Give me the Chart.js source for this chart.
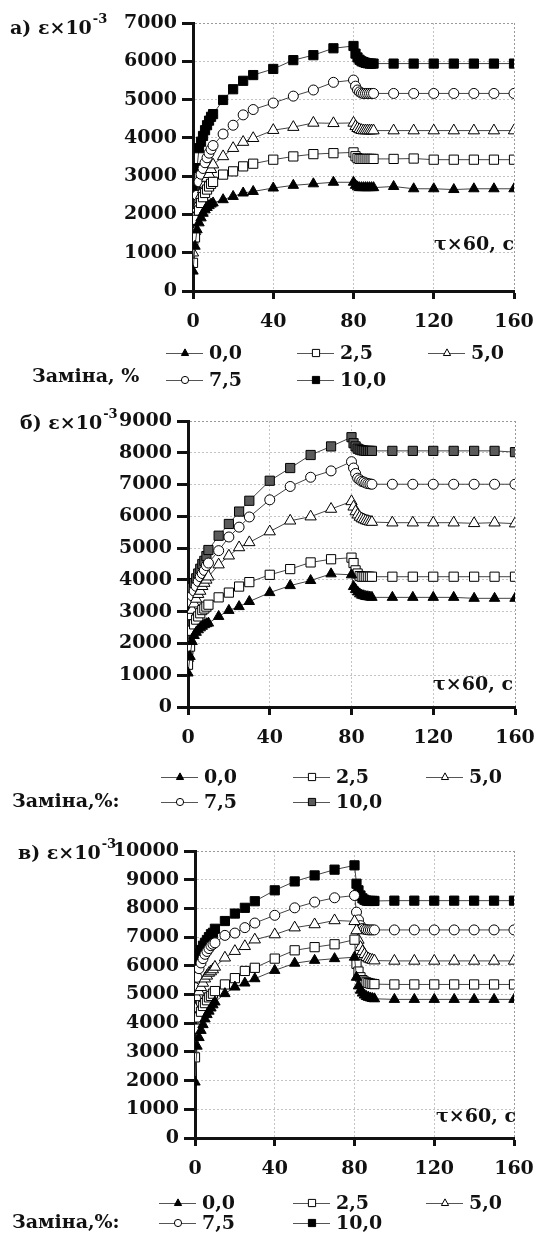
<!DOCTYPE html>
<html><head><meta charset="utf-8">
<script src="https://cdn.jsdelivr.net/npm/chart.js@4.4.0/dist/chart.umd.min.js"></script>
<style>
html,body{margin:0;padding:0;background:#fff;}
body{width:536px;height:1239px;position:relative;overflow:hidden;}
canvas{position:absolute;left:0;}
</style></head><body>
<canvas id="ca" width="536" height="395" style="top:0px"></canvas>
<canvas id="cb" width="536" height="425" style="top:395px"></canvas>
<canvas id="cc" width="536" height="419" style="top:820px"></canvas>
<script>
// ---- data ----
const timeX = [0,1,2,3,4,5,6,7,8,9,10,15,20,25,30,40,50,60,70,80,81,82,83,84,85,86,87,88,89,90,100,110,120,130,140,150,160];
const seriesLabels = ['0,0','2,5','5,0','7,5','10,0'];
const xTicks = [0,40,80,120,160];

// panel а
const a_00 = [520,1170,1600,1780,1910,2030,2120,2180,2230,2270,2300,2385,2470,2560,2600,2690,2760,2800,2840,2840,2760,2720,2700,2700,2700,2700,2700,2700,2700,2700,2730,2670,2670,2650,2670,2670,2670];
const a_25 = [735,1400,1860,2100,2300,2450,2560,2650,2730,2800,2850,3040,3125,3255,3325,3430,3515,3575,3600,3620,3520,3470,3450,3450,3450,3450,3450,3450,3450,3450,3450,3460,3430,3430,3430,3430,3430];
const a_50 = [1000,1560,2040,2300,2500,2650,2800,2950,3050,3180,3300,3515,3730,3890,3990,4200,4280,4390,4380,4390,4300,4250,4220,4200,4190,4190,4190,4190,4190,4190,4190,4190,4190,4190,4190,4190,4190];
const a_75 = [1240,2030,2500,2850,3050,3200,3350,3480,3600,3700,3800,4100,4330,4600,4740,4910,5090,5250,5450,5510,5350,5250,5200,5170,5160,5160,5160,5160,5160,5160,5160,5160,5160,5160,5160,5160,5160];
const a_100 = [1620,2640,3210,3730,3900,4050,4200,4330,4450,4550,4620,4990,5270,5490,5640,5800,6030,6160,6340,6400,6200,6100,6040,6000,5980,5960,5950,5940,5940,5940,5940,5940,5940,5940,5940,5940,5940];
// panel б
const b_00 = [1070,1590,2060,2250,2350,2430,2490,2540,2590,2620,2640,2850,3040,3160,3320,3600,3820,3980,4190,4160,3790,3700,3620,3560,3520,3500,3480,3470,3460,3450,3450,3450,3450,3450,3420,3420,3420];
const b_25 = [1330,1900,2400,2600,2750,2850,2950,3050,3100,3160,3220,3450,3600,3790,3930,4160,4340,4550,4650,4700,4530,4300,4200,4120,4100,4100,4100,4100,4100,4100,4100,4100,4100,4100,4100,4100,4100];
const b_50 = [1540,2850,3050,3250,3400,3550,3650,3800,3900,4000,4100,4480,4760,5020,5180,5520,5860,5990,6230,6470,6300,6150,6050,5980,5930,5900,5870,5850,5830,5820,5800,5800,5800,5800,5780,5800,5770];
const b_75 = [1700,3300,3500,3650,3800,3950,4100,4200,4300,4450,4530,4920,5350,5660,5980,6520,6940,7230,7430,7720,7520,7350,7200,7150,7100,7080,7050,7030,7020,7010,7010,7010,7010,7010,7010,7010,7010];
const b_100 = [1850,3590,3750,3900,4050,4200,4350,4500,4600,4750,4940,5390,5760,6150,6490,7120,7520,7930,8200,8490,8300,8200,8130,8100,8080,8070,8060,8060,8060,8060,8060,8060,8060,8060,8060,8060,8020];
// panel в
const c_00 = [1950,3200,3500,3750,3950,4150,4300,4420,4530,4640,4740,5030,5260,5400,5550,5840,6090,6190,6250,6300,5600,5300,5150,5050,4980,4930,4900,4880,4860,4850,4830,4830,4830,4830,4830,4830,4830];
const c_25 = [2810,3810,4200,4400,4600,4700,4800,4900,4950,5030,5120,5350,5570,5820,5930,6250,6540,6650,6750,6910,6070,5800,5600,5500,5450,5420,5400,5380,5370,5360,5350,5350,5350,5350,5350,5350,5350];
const c_50 = [4510,4900,5100,5250,5400,5550,5650,5750,5800,5870,5960,6280,6510,6680,6910,7090,7330,7440,7580,7550,7230,6900,6650,6500,6400,6300,6250,6220,6200,6180,6170,6170,6170,6170,6170,6170,6170];
const c_75 = [5240,5600,5900,6100,6250,6400,6500,6600,6700,6750,6800,7060,7140,7330,7490,7760,8020,8220,8370,8450,7870,7600,7400,7300,7270,7260,7250,7250,7250,7250,7250,7250,7250,7250,7250,7250,7250];
const c_100 = [5720,6190,6400,6550,6700,6800,6900,7000,7100,7150,7290,7560,7820,8020,8250,8630,8940,9150,9350,9500,8860,8630,8450,8350,8300,8270,8260,8260,8260,8260,8270,8270,8270,8270,8270,8270,8270];

// ---- styling ----
const FONT = 'bold 19px "DejaVu Serif"';
const SUPFONT = 'bold 13px "DejaVu Serif"';
const styles = [
  {pointStyle:'triangle', bg:'#000', border:'#000', r:6},
  {pointStyle:'rect', bg:'#fff', border:'#000', r:6.5},
  {pointStyle:'triangle', bg:'#fff', border:'#000', r:6.5},
  {pointStyle:'circle', bg:'#fff', border:'#000', r:5},
  {pointStyle:'rect', bg:'#000', border:'#000', r:6.5}
];

function pts(vals){ return timeX.map((x,i)=>({x:x, y:vals[i]})); }

function drawMarker(ctx, style, x, y, r){
  ctx.beginPath();
  if(style==='circle'){ ctx.arc(x,y,r,0,Math.PI*2); }
  else if(style==='rect'){ ctx.rect(x-r,y-r,2*r,2*r); }
  else { ctx.moveTo(x, y-r*1.15); ctx.lineTo(x+r, y+r*0.7); ctx.lineTo(x-r, y+r*0.7); ctx.closePath(); }
  ctx.fill(); ctx.stroke();
}

const textPlugin = {
  id:'panelText',
  afterDraw(chart, args, o){
    const ctx = chart.ctx;
    ctx.save();
    ctx.textBaseline = 'middle';
    ctx.font = FONT; ctx.fillStyle = '#111'; ctx.textAlign = 'left';
    ctx.fillText(o.header, o.hx, o.hy);
    const w = ctx.measureText(o.header).width;
    ctx.font = SUPFONT;
    ctx.fillText('-3', o.hx + w + 1, o.hy - 9);
    ctx.font = FONT; ctx.textAlign = 'right';
    ctx.fillText('τ×60, с', o.tx, o.ty);
    ctx.textAlign = 'left';
    ctx.fillText(o.title, o.lx, o.ly);
    chart.data.datasets.forEach((ds,i)=>{
      const col = i%3, row = Math.floor(i/3);
      const mx = o.colX[col], my = o.rowY[row];
      ctx.strokeStyle = '#555'; ctx.lineWidth = 1;
      ctx.beginPath(); ctx.moveTo(mx-19, my+0.5); ctx.lineTo(mx+18, my+0.5); ctx.stroke();
      ctx.fillStyle = ds.pointBackgroundColor; ctx.strokeStyle = ds.pointBorderColor; ctx.lineWidth = 1;
      drawMarker(ctx, ds.pointStyle, mx, my, 3.6);
      ctx.fillStyle = '#111'; ctx.font = FONT; ctx.textAlign='left';
      ctx.fillText(ds.label, mx + 24, my + 1);
    });
    ctx.restore();
  }
};

function makePanel(id, seriesData, opt){
  const datasets = seriesData.map((vals,i)=>({
    label: seriesLabels[i],
    data: pts(vals),
    showLine: true,
    borderColor: '#444',
    borderWidth: 1,
    pointStyle: styles[i].pointStyle,
    pointRadius: styles[i].r,
    pointBackgroundColor: (i===4 && opt.grayTop) ? '#5a5a5a' : styles[i].bg,
    pointBorderColor: styles[i].border,
    pointBorderWidth: 1,
    tension: 0
  }));
  return new Chart(document.getElementById(id), {
    type:'scatter',
    data:{datasets},
    options:{
      responsive:false, animation:false, devicePixelRatio:1,
      layout:{padding:{left:0, right:opt.padRight, top:opt.padTop, bottom:opt.padBottom}},
      plugins:{legend:{display:false}, tooltip:{enabled:false}, panelText: opt.text},
      scales:{
        x:{type:'linear', min:0, max:160,
           afterBuildTicks: s => { s.ticks = xTicks.map(v=>({value:v})); },
           afterFit: s => { s.height = opt.xH; s.paddingLeft = 0; s.paddingRight = 0; },
           ticks:{font:{family:'DejaVu Serif', size:19, weight:'bold'}, color:'#111', padding:12, maxRotation:0,
                  callback: v => String(v)},
           grid:{color: c => c.tick && c.tick.value===160 ? '#999' : '#c4c4c4', lineWidth:1, tickColor:'#111', tickWidth:3, tickLength:8, tickBorderDash:[]},
           border:{display:true, color:'#111', width:3, dash:[2,2]}
        },
        y:{type:'linear', min:0, max:opt.yMax,
           ticks:{stepSize:1000, font:{family:'DejaVu Serif', size:19, weight:'bold'}, color:'#111', padding:5,
                  callback: v => String(v)},
           afterFit: s => { s.width = opt.yW; s.paddingTop = 0; s.paddingBottom = 0; },
           grid:{color: c => c.tick && c.tick.value===opt.yMax ? '#999' : '#c4c4c4', lineWidth:1, tickColor:'#111', tickWidth:3, tickLength:11, tickBorderDash:[]},
           border:{display:true, color:'#111', width:3, dash:[2,2]}
        }
      }
    },
    plugins:[textPlugin]
  });
}

makePanel('ca', [a_00,a_25,a_50,a_75,a_100], {
  yMax:7000, yW:193, xH:40, padRight:22, padTop:23, padBottom:395-291-40,
  text:{header:'а) ε×10', hx:10, hy:29, tx:514, ty:245, title:'Заміна, %', lx:32, ly:377,
        colX:[185,316,447], rowY:[353,380]}
});
makePanel('cb', [b_00,b_25,b_50,b_75,b_100], {
  yMax:9000, yW:188, xH:40, padRight:21, padTop:26, padBottom:425-312-40, grayTop:true,
  text:{header:'б) ε×10', hx:20, hy:29, tx:513, ty:290, title:'Заміна,%:', lx:12, ly:407,
        colX:[180,312,445], rowY:[382,407]}
});
makePanel('cc', [c_00,c_25,c_50,c_75,c_100], {
  yMax:10000, yW:195, xH:40, padRight:22, padTop:31, padBottom:419-318-40,
  text:{header:'в) ε×10', hx:18, hy:34, tx:516, ty:297, title:'Заміна,%:', lx:12, ly:403,
        colX:[178,312,445], rowY:[383,403]}
});
</script>
</body></html>
